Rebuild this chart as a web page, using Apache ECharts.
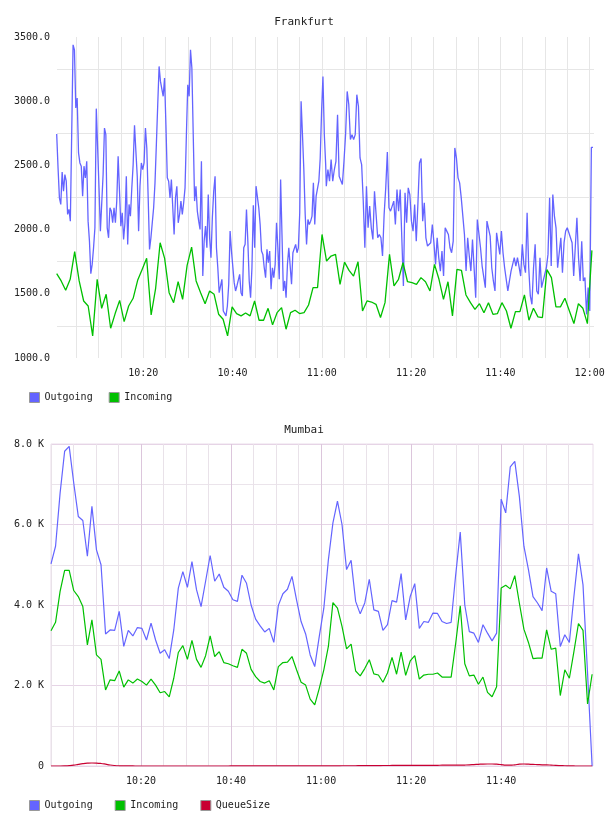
<!DOCTYPE html>
<html>
<head>
<meta charset="utf-8">
<title>Frankfurt / Mumbai</title>
<script src="https://cdn.jsdelivr.net/npm/echarts@6.0.0/dist/echarts.min.js"></script>
<style>
html, body { margin: 0; padding: 0; background: #fff; }
#main { width: 608px; height: 816px; }
</style>
</head>
<body>
<div id="main"></div>
<script>
var chartDom = document.getElementById('main');
var myChart = echarts.init(chartDom);
var option;

// minutes after 10:00
var FRA_GRID_MIN = [5, 10, 15, 20, 25, 30, 35, 40, 45, 50, 55, 60, 65, 70, 75, 80, 85, 90, 95, 100, 105, 110, 115, 120];
var FRA_LABEL_MIN = [20, 40, 60, 80, 100, 120];
var MUM_GRID_MIN = [0, 5, 10, 15, 25, 30, 35, 45, 50, 55, 65, 70, 75, 85, 90, 95, 105, 110, 115];
var MUM_LABEL_MIN = [20, 40, 60, 80, 100];

// Frankfurt outgoing, 10:00:36 - 11:00:52
var fraOutFirst = [
    2745, 2480, 2247, 2196, 2449, 2299, 2429, 2377, 2118, 2157,
    2066, 2053, 3439, 3400, 2947, 3025, 2597, 2519, 2494, 2260,
    2494, 2403, 2532, 2066, 1910, 1657, 1729, 1859, 2014, 2942,
    2636, 2325, 1988, 1975, 2429, 2791, 2740, 2014, 1936, 2170,
    2144, 2053, 2170, 2053, 2222, 2571, 2299, 2027, 2131, 1923,
    2053, 2416, 1885, 2196, 2105, 2320, 2506, 2812, 2610, 2416,
    1988, 2338, 2519, 2468, 2519, 2791, 2636, 2247, 1846, 1936,
    1936, 2170, 2364, 2662, 2973, 3271, 3154, 3141, 3038, 3180,
    2817, 2403, 2377, 2247, 2390, 2390, 1962, 2247, 2338, 2053,
    2118, 2222, 2118, 2209, 2325, 2740, 3128, 3038, 3400, 3258,
    2740, 2222, 2338, 2144, 2066, 2001, 2532, 1638, 1910, 2027,
    1859, 2273, 1936, 1781, 2092, 2299, 2416, 1859, 1703, 1509,
    1522, 1613, 1366, 1366, 1328, 1405, 1574, 1988, 1833, 1820,
    1587, 1522, 1561, 1561, 1651, 1509, 1483, 1859, 1885, 2157,
    1910, 1600, 1470, 1703, 2190, 1859, 2338, 2351, 2170, 2040,
    1833, 1807, 1703, 1626, 1846, 1742, 1833, 1535, 1703, 1626,
    1729, 2053, 1859, 1613, 2390, 1962, 1522, 1600, 1470, 1729,
    1859, 1859, 1574, 1820, 1820, 1885, 1820, 1859, 2131, 2999,
    2740, 2468, 2118, 1885, 2079, 2040, 2066, 2105, 2364, 2040,
    2260, 2273, 2377, 2558, 2921, 3193, 2740, 2506
];
// Frankfurt outgoing, 11:01 - 12:00:44
var fraOutSecond = [
    2338, 2468, 2377, 2545, 2377, 2468, 2532, 2895, 2416, 2416,
    2351, 2532, 2740, 3076, 2973, 2701, 2740, 2701, 2740, 3051,
    2960, 2558, 2506, 2222, 1859, 2338, 2014, 2183, 2014, 1923,
    2299, 2118, 1936, 1962, 1936, 1794, 2118, 2325, 2605, 2170,
    2144, 2131, 2222, 2040, 2312, 2144, 2312, 2299, 1561, 2286,
    2053, 2325, 2273, 2066, 1988, 2196, 1910, 2196, 2519, 2553,
    2066, 2209, 1936, 1872, 1859, 1898, 2040, 1898, 1729, 1936,
    1781, 1677, 1833, 1638, 2014, 1988, 1962, 1859, 1820, 1910,
    2636, 2558, 2403, 2364, 2247, 2234, 1962, 1677, 1936, 1794,
    1677, 1923, 1703, 1470, 2079, 2066, 1859, 1716, 1703, 1548,
    2066, 2066, 1949, 1703, 1600, 1522, 1975, 1988, 1807, 1988,
    1820, 1703, 1690, 1522, 1600, 1677, 1729, 1781, 1716, 1781,
    1794, 1638, 1885, 1729, 1664, 2131, 1703, 1483, 1418, 1703,
    1885, 1522, 1496, 1781, 1548, 1600, 1600, 1703, 1807, 2247,
    1716, 2273, 2105, 2014, 1703, 1820, 1936, 1664, 1898, 1988,
    2014, 1975, 1975, 1898, 1638, 1651, 2092, 1781, 1600, 1910,
    1600, 1626, 1340, 1548, 1366, 2641, 2641
];
// Frankfurt incoming, one a minute from 10:00:36
var fraIn = [
    1657, 1600, 1527, 1613, 1828, 1600, 1444, 1405, 1172, 1613,
    1387, 1496, 1232, 1346, 1449, 1283, 1405, 1465, 1605, 1690,
    1776, 1335, 1543, 1898, 1776, 1509, 1431, 1594, 1457, 1721,
    1864, 1600, 1509, 1423, 1522, 1496, 1341, 1302, 1172, 1398,
    1346, 1328, 1351, 1328, 1444, 1294, 1294, 1387, 1258, 1353,
    1392, 1224, 1353, 1372, 1346, 1353, 1413, 1548, 1548, 1962,
    1755, 1794, 1807, 1574, 1747, 1682, 1638, 1750, 1366, 1444,
    1436, 1418, 1315, 1431, 1807, 1561, 1613, 1742, 1594, 1587,
    1574, 1626, 1594, 1522, 1729, 1613, 1457, 1594, 1328, 1690,
    1682, 1491, 1431, 1379, 1423, 1353, 1431, 1340, 1346, 1431,
    1366, 1232, 1361, 1361, 1491, 1294, 1387, 1320, 1315, 1688,
    1626, 1398, 1398, 1465, 1366, 1268, 1423, 1387, 1268, 1838
];

// Mumbai, one a minute from 10:00
var mumOut = [
    5020, 5460, 6780, 7820, 7940, 7030, 6200, 6100, 5210, 6450,
    5370, 5000, 3280, 3380, 3370, 3840, 2970, 3370, 3230, 3440,
    3420, 3130, 3550, 3130, 2800, 2890, 2670, 3380, 4420, 4830,
    4440, 5080, 4380, 3960, 4590, 5230, 4590, 4770, 4440, 4340,
    4130, 4090, 4740, 4540, 4000, 3650, 3480, 3330, 3420, 3070,
    3990, 4280, 4390, 4710, 4130, 3590, 3280, 2760, 2470, 3220,
    3920, 5120, 6040, 6580, 6000, 4880, 5110, 4090, 3780, 4050,
    4640, 3880, 3840, 3370, 3510, 4110, 4070, 4780, 3630, 4210,
    4530, 3420, 3590, 3570, 3800, 3790, 3590, 3540, 3570, 4750,
    5810, 4000, 3340, 3300, 3070, 3510, 3300, 3110, 3300, 6630,
    6290, 7430, 7570, 6700, 5460, 4880, 4210, 4050, 3860, 4920,
    4340, 4280, 2970, 3260, 3070, 4210, 5270, 4500, 2310, 0
];
var mumIn = [
    3360, 3570, 4340, 4860, 4860, 4360, 4210, 3960, 3010, 3630,
    2760, 2650, 1890, 2140, 2120, 2360, 1960, 2140, 2060, 2160,
    2100, 2010, 2160, 2010, 1820, 1850, 1720, 2180, 2820, 2990,
    2650, 3120, 2650, 2450, 2740, 3230, 2720, 2840, 2570, 2540,
    2490, 2450, 2900, 2800, 2400, 2220, 2100, 2060, 2120, 1890,
    2470, 2570, 2580, 2720, 2390, 2080, 2010, 1660, 1520, 1930,
    2390, 2970, 4060, 3920, 3470, 2910, 3030, 2360, 2240, 2420,
    2640, 2290, 2260, 2080, 2310, 2700, 2280, 2830, 2250, 2610,
    2740, 2160, 2260, 2280, 2280, 2310, 2210, 2210, 2210, 3050,
    3980, 2540, 2240, 2260, 2030, 2210, 1830, 1720, 1970, 4420,
    4490, 4400, 4730, 4050, 3400, 3070, 2670, 2680, 2680, 3380,
    2900, 2930, 1750, 2390, 2180, 2840, 3540, 3370, 1540, 2280
];
var mumQueue = [
    0, 0, 0, 2, 8, 20, 40, 58, 70, 75,
    72, 62, 45, 25, 12, 5, 2, 1, 1, 0,
    0, 0, 0, 0, 0, 0, 0, 0, 0, 0,
    0, 0, 0, 0, 0, 0, 0, 0, 0, 0,
    2, 2, 2, 2, 2, 2, 2, 2, 2, 2,
    2, 3, 3, 3, 3, 3, 3, 3, 3, 3,
    5, 5, 5, 5, 6, 6, 6, 6, 8, 8,
    8, 10, 10, 12, 12, 14, 14, 15, 15, 15,
    16, 16, 16, 18, 18, 18, 20, 20, 20, 20,
    22, 24, 28, 35, 42, 48, 50, 50, 45, 35,
    22, 20, 30, 45, 50, 45, 40, 35, 30, 28,
    22, 15, 10, 6, 3, 1, 0, 0, 0, 0
];

var FONT = 'DejaVu Sans Mono';
var BLUE = '#6464ff';
var GREEN = '#00c000';
var RED = '#c80032';

// spread samples evenly between two times (minutes after 10:00)
function spread(values, start, end) {
    var step = (end - start) / (values.length - 1);
    return values.map(function (v, i) {
        return [start + i * step, v];
    });
}

function clock(m) {
    var t = 600 + Math.round(m);
    var mm = t % 60;
    return Math.floor(t / 60) + ':' + (mm < 10 ? '0' : '') + mm;
}

var fraOutData = spread(fraOutFirst, 0.6, 60.86).concat(spread(fraOutSecond, 61.0, 120.74));
var fraInData = spread(fraIn, 0.6, 120.5);
var mumOutData = spread(mumOut, 0, 120.2);
var mumInData = spread(mumIn, 0, 120.2);
var mumQueueData = spread(mumQueue, 0, 120.2);

var labelStyle = { fontFamily: FONT, fontSize: 10, color: '#222' };

option = {
    animation: false,
    title: [
        { text: 'Frankfurt', left: 'center', top: 12, textStyle: { fontFamily: FONT, fontSize: 11, fontWeight: 'normal', color: '#222' } },
        { text: 'Mumbai', left: 'center', top: 420, textStyle: { fontFamily: FONT, fontSize: 11, fontWeight: 'normal', color: '#222' } }
    ],
    legend: [
        {
            data: ['Outgoing', 'Incoming'],
            left: 24, top: 387, itemWidth: 10, itemHeight: 10, itemGap: 16,
            icon: 'rect',
            itemStyle: { borderColor: '#999', borderWidth: 1 },
            textStyle: labelStyle
        },
        {
            data: ['Outgoing', 'Incoming', 'QueueSize'],
            left: 24, top: 795, itemWidth: 10, itemHeight: 10, itemGap: 22,
            icon: 'rect',
            itemStyle: { borderColor: '#999', borderWidth: 1 },
            textStyle: labelStyle
        }
    ],
    grid: [
        { left: 57, right: 14, top: 37, bottom: 458 },
        { left: 51, right: 15, top: 444, bottom: 50, show: true, borderColor: '#eadcea', borderWidth: 1 }
    ],
    xAxis: [
        {
            gridIndex: 0, type: 'value', min: 0.67, max: 120.97,
            axisLine: { show: false },
            axisTick: { show: false, customValues: FRA_GRID_MIN },
            axisLabel: Object.assign({ customValues: FRA_LABEL_MIN, formatter: clock, margin: 10 }, labelStyle),
            splitLine: { show: true, lineStyle: { color: '#e6e6e6' } }
        },
        {
            gridIndex: 1, type: 'value', min: 0, max: 120.4, position: 'bottom',
            axisLine: { show: false },
            axisTick: { show: false, customValues: MUM_GRID_MIN },
            axisLabel: { show: false },
            splitLine: { show: true, lineStyle: { color: '#e9e2e9' } }
        },
        {
            gridIndex: 1, type: 'value', min: 0, max: 120.4, position: 'bottom',
            axisLine: { show: false },
            axisTick: { show: false, customValues: MUM_LABEL_MIN },
            axisLabel: Object.assign({ customValues: MUM_LABEL_MIN, formatter: clock, margin: 10 }, labelStyle),
            splitLine: { show: true, lineStyle: { color: '#dcc6dc' } }
        }
    ],
    yAxis: [
        {
            gridIndex: 0, type: 'value', min: 1000, max: 3500, interval: 500,
            axisLine: { show: false }, axisTick: { show: false },
            axisLabel: Object.assign({ formatter: function (v) { return v.toFixed(1); }, margin: 7 }, labelStyle),
            splitLine: { show: false },
            minorTick: { show: false, splitNumber: 2 },
            minorSplitLine: { show: true, lineStyle: { color: '#e6e6e6' } }
        },
        {
            gridIndex: 1, type: 'value', min: 0, max: 8000, interval: 2000,
            axisLine: { show: false }, axisTick: { show: false },
            axisLabel: Object.assign({
                formatter: function (v) { return v === 0 ? '0' : (v / 1000).toFixed(1) + ' K'; },
                margin: 7
            }, labelStyle),
            splitLine: { show: true, lineStyle: { color: '#e6d4e6' } },
            minorTick: { show: false, splitNumber: 2 },
            minorSplitLine: { show: true, lineStyle: { color: '#ebe4eb' } }
        }
    ],
    series: [
        {
            name: 'Outgoing', type: 'line', xAxisIndex: 0, yAxisIndex: 0,
            data: fraOutData, showSymbol: false, color: BLUE,
            lineStyle: { width: 1.3, color: BLUE }
        },
        {
            name: 'Incoming', type: 'line', xAxisIndex: 0, yAxisIndex: 0,
            data: fraInData, showSymbol: false, color: GREEN,
            lineStyle: { width: 1.3, color: GREEN }
        },
        {
            name: 'Outgoing', type: 'line', xAxisIndex: 2, yAxisIndex: 1,
            data: mumOutData, showSymbol: false, color: BLUE,
            lineStyle: { width: 1.2, color: BLUE }
        },
        {
            name: 'Incoming', type: 'line', xAxisIndex: 2, yAxisIndex: 1,
            data: mumInData, showSymbol: false, color: GREEN,
            lineStyle: { width: 1.2, color: GREEN }
        },
        {
            name: 'QueueSize', type: 'line', xAxisIndex: 2, yAxisIndex: 1,
            data: mumQueueData, showSymbol: false, smooth: true, color: RED,
            lineStyle: { width: 1.2, color: RED }
        }
    ]
};

option && myChart.setOption(option);
</script>
</body>
</html>
